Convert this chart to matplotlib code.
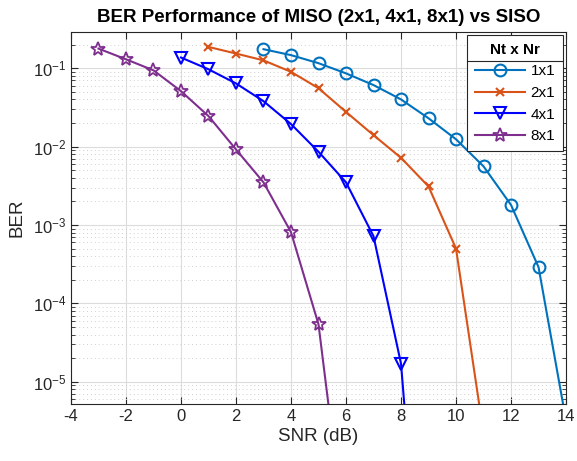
import matplotlib
matplotlib.use("Agg")
import matplotlib.pyplot as plt
from matplotlib.lines import Line2D
from matplotlib.ticker import LogLocator, NullFormatter, MultipleLocator, FuncFormatter
import numpy as np

plt.rcParams['font.family'] = ['Liberation Sans', 'DejaVu Sans']
plt.rcParams['axes.unicode_minus'] = False
plt.rcParams['mathtext.fontset'] = 'custom'
plt.rcParams['mathtext.rm'] = 'Liberation Sans'
plt.rcParams['mathtext.it'] = 'Liberation Sans:italic'
plt.rcParams['mathtext.bf'] = 'Liberation Sans:bold'

# BER values (last point in each series lies below the axis)
snr_1x1 = [3, 4, 5, 6, 7, 8, 9, 10, 11, 12, 13, 14]
ber_1x1 = [0.175, 0.147, 0.116, 0.086, 0.061, 0.040, 0.023, 0.0124, 0.0056, 0.0018, 2.9e-4, 3.2e-6]

snr_2x1 = [1, 2, 3, 4, 5, 6, 7, 8, 9, 10, 11]
ber_2x1 = [0.187, 0.154, 0.126, 0.090, 0.0556, 0.0277, 0.014, 0.0072, 0.0031, 5.0e-4, 2.2e-6]

snr_4x1 = [0, 1, 2, 3, 4, 5, 6, 7, 8, 9]
ber_4x1 = [0.137, 0.097, 0.064, 0.038, 0.0194, 0.0086, 0.0035, 7.2e-4, 1.7e-5, 8e-10]

snr_8x1 = [-3, -2, -1, 0, 1, 2, 3, 4, 5, 6]
ber_8x1 = [0.178, 0.130, 0.094, 0.051, 0.0245, 0.0092, 0.0035, 8.1e-4, 5.4e-5, 8e-8]

labels = ['1x1', '2x1', '4x1', '8x1']

fig = plt.figure(figsize=(5.77, 4.61), dpi=100)
ax = fig.add_axes([0.123, 0.1236, 0.858, 0.807])

dark = '#262626'
ax.semilogy(snr_1x1, ber_1x1, '-o', color='#0072BD', lw=1.5, ms=8.5, mfc='none', mew=1.5, label=labels[0])
ax.semilogy(snr_2x1, ber_2x1, '-x', color='#D95319', lw=1.5, ms=6, mew=1.5, label=labels[1])
ax.semilogy(snr_4x1, ber_4x1, '-v', color='#0000FF', lw=1.5, ms=9, mfc='none', mew=1.5, label=labels[2])
ax.semilogy(snr_8x1, ber_8x1, '-*', color='#7E2F8E', lw=1.5, ms=10, mfc='none', mew=1.3, label=labels[3])

ax.set_xlim(-4, 14)
ax.set_ylim(5.2e-6, 0.29)
ax.xaxis.set_major_locator(MultipleLocator(2))
ax.yaxis.set_major_locator(LogLocator(base=10, numticks=20))
ax.yaxis.set_minor_locator(LogLocator(base=10, subs=np.arange(2, 10), numticks=20))
ax.yaxis.set_minor_formatter(NullFormatter())
ax.yaxis.set_major_formatter(FuncFormatter(lambda v, p: r'$\mathregular{10^{%d}}$' % round(np.log10(v))))

ax.grid(True, which='major', color='#dcdcdc', lw=0.8, ls='-')
ax.grid(True, which='minor', axis='y', color='#d0d0d0', lw=0.7, ls=(0, (1, 3)))
ax.set_axisbelow(True)

ax.tick_params(which='both', direction='in', top=True, right=True, colors=dark, labelsize=12)
ax.tick_params(which='major', length=5)
ax.tick_params(which='minor', length=3)
for s in ax.spines.values():
    s.set_color(dark)
    s.set_linewidth(0.8)

ax.set_xlabel('SNR (dB)', fontsize=13.5, color=dark, labelpad=3)
ax.set_ylabel('BER', fontsize=13.5, color=dark, labelpad=5)
ax.set_title('BER Performance of MISO (2x1, 4x1, 8x1) vs SISO', fontsize=13.5, fontweight='bold', color='black', pad=7)

leg = ax.legend(loc='upper right', title='Nt x Nr', fontsize=11, fancybox=False,
                edgecolor=dark, framealpha=1, borderaxespad=0.2, handlelength=3.3,
                handletextpad=0.35, labelspacing=0.5, borderpad=0.5)
leg.get_title().set_fontweight('bold')
leg.get_title().set_fontsize(11)
leg.get_frame().set_linewidth(0.8)

# separator line under the legend title, as MATLAB draws it
fig.canvas.draw()
fr = leg.get_frame().get_window_extent()
tb = leg.get_title().get_window_extent()
inv = fig.transFigure.inverted()
ysep = tb.y0 - 4
(x0, y0) = inv.transform((fr.x0, ysep))
(x1, _) = inv.transform((fr.x1, ysep))
fig.add_artist(Line2D([x0, x1], [y0, y0], color=dark, lw=0.8, transform=fig.transFigure))

fig.savefig('out.png', dpi=100)
